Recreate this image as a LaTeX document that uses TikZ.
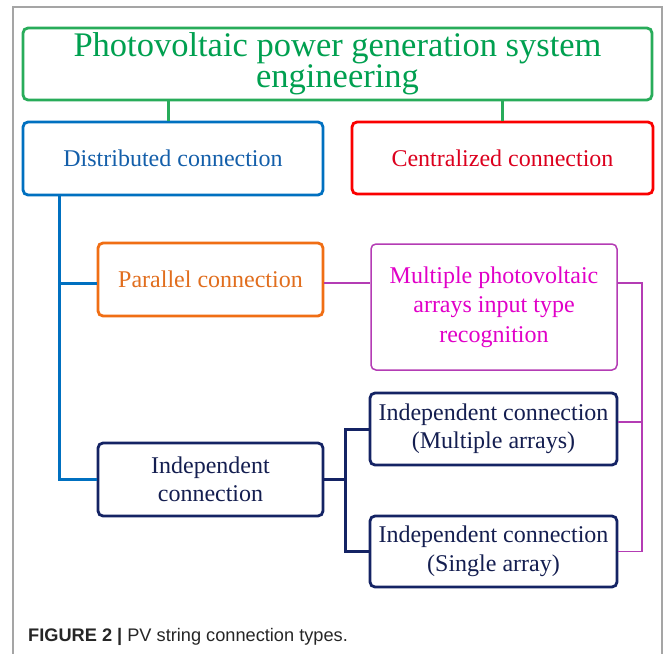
\documentclass[tikz,border=0pt]{standalone}
\usepackage{fontspec}
\setmainfont{Liberation Serif}
\newfontfamily\capfont{Liberation Sans}
\definecolor{cgreen}{RGB}{40,172,90}
\definecolor{tgreen}{RGB}{0,160,80}
\definecolor{cblue}{RGB}{0,112,192}
\definecolor{tblue}{RGB}{20,95,170}
\definecolor{cred}{RGB}{250,0,0}
\definecolor{tred}{RGB}{220,0,30}
\definecolor{corange}{RGB}{240,110,20}
\definecolor{torange}{RGB}{225,110,30}
\definecolor{cmag}{RGB}{180,60,180}
\definecolor{tmag}{RGB}{225,0,200}
\definecolor{cnavy}{RGB}{20,35,100}
\definecolor{tnavy}{RGB}{20,30,80}
\definecolor{frame}{RGB}{165,165,165}
\begin{document}
\begin{tikzpicture}[x=1pt,y=-1pt,
  box/.style={draw, rounded corners=5pt, line width=2.8pt, align=center, inner sep=0pt,
    font=\fontsize{24}{28.5}\selectfont},
  wire/.style={line width=3pt},
  thinwire/.style={line width=1.5pt, draw=cmag}]
\fill[white] (0,0) rectangle (665,654);
\useasboundingbox (0,0) rectangle (665,654);
\draw[frame, line width=1.5pt] (13,654) -- (13,7) -- (662,7) -- (662,654);

\node[box, draw=cgreen, text=tgreen, minimum width=629pt, minimum height=72pt,
  font=\fontsize{34.5}{27}\selectfont] (top) at (337.5,64)
  {Photovoltaic power generation system\\engineering};
\node[box, draw=cblue, text=tblue, minimum width=300pt, minimum height=73pt] (dist) at (173,158.5)
  {Distributed connection};
\node[box, draw=cred, text=tred, minimum width=301pt, minimum height=72pt] (cent) at (502.5,158)
  {Centralized connection};
\node[box, draw=corange, text=torange, minimum width=225pt, minimum height=73pt] (par) at (210.5,279.5)
  {Parallel connection};
\node[box, draw=cmag, text=tmag, line width=1.5pt, minimum width=246pt, minimum height=126pt,
  font=\fontsize{24}{29.5}\selectfont] (multi) at (494,307)
  {Multiple photovoltaic\\arrays input type\\recognition};
\node[box, draw=cnavy, text=tnavy, minimum width=225pt, minimum height=73pt] (indep) at (210.5,479.5)
  {Independent\\connection};
\node[box, draw=cnavy, text=tnavy, minimum width=247pt, minimum height=72pt] (im) at (493.5,429)
  {Independent connection\\(Multiple arrays)};
\node[box, draw=cnavy, text=tnavy, minimum width=247pt, minimum height=71pt] (is) at (493.5,551.5)
  {Independent connection\\(Single array)};

\node[anchor=base west, inner sep=0pt, text=black!85, font=\capfont\fontsize{18.2}{21}\selectfont] (cap) at (28,641.5)
  {\textbf{FIGURE 2 |} PV string connection types.};

\coordinate (g1) at (168,0);
\coordinate (b1) at (59,0);
\coordinate (n1) at (345,0);
\coordinate (mr) at (642,283);
\coordinate (mu) at (642,422);

\draw[wire, draw=cgreen] (top.south -| g1) -- (dist.north -| g1);
\draw[wire, draw=cgreen] (top.south -| cent.north) -- (cent.north);
\draw[wire, draw=cblue] (dist.south -| b1) |- (indep.west);
\draw[wire, draw=cblue] (b1 |- mr) -- (par.west |- mr);
\draw[thinwire] (par.east |- mr) -- (multi.west |- mr);
\draw[thinwire] (multi.east |- mr) -- (mr) -- (mr |- is.east) -- (is.east);
\draw[thinwire] (im.east |- mu) -- (mu);
\draw[wire, draw=cnavy] (indep.east) -- (indep.east -| n1);
\draw[wire, draw=cnavy] (im.west) -| (n1 |- is.west) -- (is.west);
\end{tikzpicture}
\end{document}
